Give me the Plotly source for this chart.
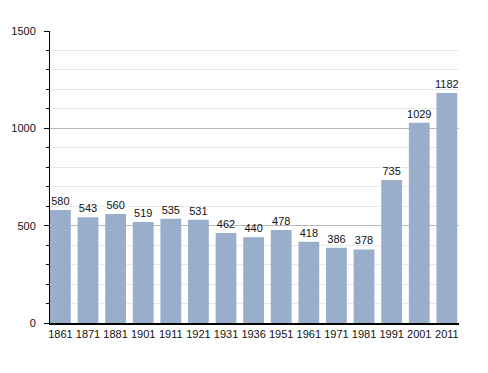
import plotly.graph_objects as go

years = ["1861", "1871", "1881", "1901", "1911", "1921", "1931", "1936",
         "1951", "1961", "1971", "1981", "1991", "2001", "2011"]
population = [580, 543, 560, 519, 535, 531, 462, 440, 478, 418, 386, 378, 735, 1029, 1182]
y_ticks = [0, 500, 1000, 1500]

positions = list(range(len(years)))
bar_w = 0.753

fig = go.Figure(go.Bar(
    x=positions, y=population, width=bar_w,
    marker=dict(color="#98aecb", line=dict(width=0)),
    text=[str(v) for v in population],
    textposition="outside",
    textfont=dict(size=11, color="#111"),
    cliponaxis=False,
))

# page body has an 8px margin, so the figure is shrunk and offset
fig.update_layout(
    width=472, height=357,
    margin=dict(l=42, r=21, t=23, b=42, autoexpand=False),
    paper_bgcolor="white", plot_bgcolor="white",
    font=dict(family="Liberation Sans, Arial, sans-serif", size=11, color="#111"),
    showlegend=False,
    uniformtext=dict(minsize=11, mode="show"),
)
fig.update_xaxes(
    range=[-bar_w / 2, len(years) - 1 + 0.44], automargin=False,
    tickvals=positions, ticktext=years,
    showline=True, linecolor="black", linewidth=1.5,
    ticks="", showgrid=False, zeroline=False, tickfont=dict(size=11),
)
fig.update_yaxes(
    range=[0, 1500], tickvals=y_ticks, automargin=False,
    showline=True, linecolor="black", linewidth=1,
    ticks="outside", ticklen=5, tickcolor="black", ticklabelstandoff=6,
    showgrid=True, gridcolor="#b8b8b8", gridwidth=1, zeroline=False,
    minor=dict(dtick=100, showgrid=True, gridcolor="#e8e8e8", ticks="outside",
               ticklen=3, tickcolor="black"),
    tickfont=dict(size=11),
)

fig.write_html("out.html")
